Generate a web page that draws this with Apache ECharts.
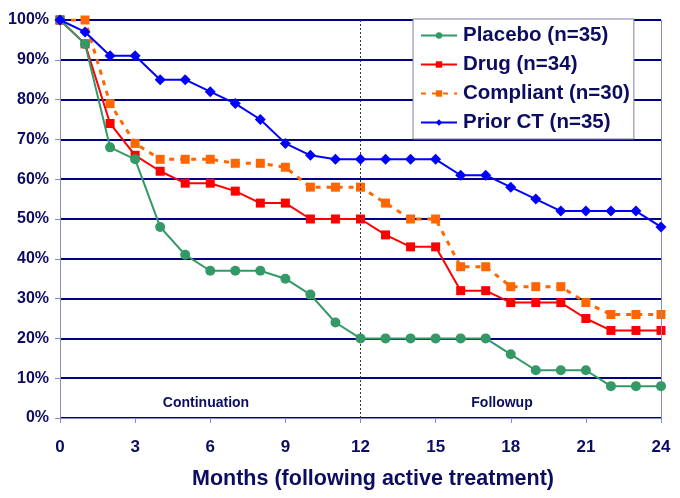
<!DOCTYPE html>
<html>
<head>
<meta charset="utf-8">
<script src="https://cdn.jsdelivr.net/npm/echarts@6/dist/echarts.min.js"></script>
<style>html,body{margin:0;padding:0;background:#fff}#c{width:680px;height:498px}</style>
</head>
<body>
<div id="c"></div>
<script>
var months = [0,1,2,3,4,5,6,7,8,9,10,11,12,13,14,15,16,17,18,19,20,21,22,23,24];
var placebo   = [100,94,68,65,48,41,37,37,37,35,31,24,20,20,20,20,20,20,16,12,12,12,8,8,8];
var drug      = [100,94,74,66,62,59,59,57,54,54,50,50,50,46,43,43,32,32,29,29,29,25,22,22,22];
var compliant = [100,100,79,69,65,65,65,64,64,63,58,58,58,54,50,50,38,38,33,33,33,29,26,26,26];
var priorCT   = [100,97,91,91,85,85,82,79,75,69,66,65,65,65,65,65,61,61,58,55,52,52,52,52,48];
var seriesNames = ['Placebo (n=35)','Drug (n=34)','Compliant (n=30)','Prior CT (n=35)'];
var phaseLabels = ['Continuation','Followup'];
var xTitle = 'Months (following active treatment)';

function pairs(v){ return months.map(function(m,i){ return [m, v[i]]; }); }
var navy = '#0c0c60';
var font = 'Liberation Sans, Arial, sans-serif';

var chart = echarts.init(document.getElementById('c'));
chart.setOption({
  animation: false,
  backgroundColor: '#fff',
  grid: {left: 60, right: 19, top: 20, bottom: 80},
  legend: {
    left: 413, top: 19, orient: 'vertical',
    backgroundColor: '#fff', borderColor: '#7f7fa8', borderWidth: 1, borderRadius: 0,
    padding: [6, 4, 6, 7], itemGap: 8, itemWidth: 36, itemHeight: 8,
    textStyle: {color: navy, fontSize: 20.5, fontWeight: 'bold', fontFamily: font, padding: [0, 0, 0, 1]},
    data: seriesNames
  },
  xAxis: {
    type: 'value', min: 0, max: 24, interval: 3,
    name: xTitle, nameLocation: 'middle', nameGap: 50,
    nameTextStyle: {color: navy, fontSize: 21.5, fontWeight: 'bold', fontFamily: font, padding: [0, 0, 0, 25]},
    axisLine: {show: true, lineStyle: {color: '#8c8cb8', width: 1}},
    axisTick: {show: true, length: 5, lineStyle: {color: '#8c8cb8'}},
    axisLabel: {color: navy, fontSize: 17, fontWeight: 'bold', fontFamily: font, margin: 21},
    splitLine: {show: false}
  },
  yAxis: {
    type: 'value', min: 0, max: 100, interval: 10,
    axisLine: {show: true, lineStyle: {color: '#8c8cb8', width: 1}},
    axisTick: {show: true, length: 5, lineStyle: {color: '#8c8cb8'}},
    axisLabel: {color: navy, fontSize: 16, fontWeight: 'bold', fontFamily: font, formatter: '{value}%', margin: 11},
    splitLine: {show: true, lineStyle: {color: '#000080', width: 2}}
  },
  series: [
    {
      name: seriesNames[0], type: 'line', data: pairs(placebo), z: 5,
      symbol: 'circle', symbolSize: 10,
      itemStyle: {color: '#339966'}, lineStyle: {color: '#339966', width: 2},
      markLine: {
        silent: true, symbol: 'none', label: {show: false},
        data: [
          {xAxis: 12, lineStyle: {color: '#333', width: 1, type: [2, 2]}},
          {xAxis: 24, lineStyle: {color: '#8c8cb8', width: 1, type: 'solid'}}
        ]
      },
      markPoint: {
        silent: true, symbol: 'rect', symbolSize: 0,
        label: {show: true, color: navy, fontSize: 14, fontWeight: 'bold', fontFamily: font, formatter: '{b}'},
        data: [
          {name: phaseLabels[0], coord: [5.83, 3.8]},
          {name: phaseLabels[1], coord: [17.65, 3.8]}
        ]
      }
    },
    {
      name: seriesNames[1], type: 'line', data: pairs(drug), z: 4,
      symbol: 'rect', symbolSize: 9,
      itemStyle: {color: '#ff0000'}, lineStyle: {color: '#ff0000', width: 2}
    },
    {
      name: seriesNames[2], type: 'line', data: pairs(compliant), z: 3,
      symbol: 'rect', symbolSize: 9,
      itemStyle: {color: '#ff6600'}, lineStyle: {color: '#ff6600', width: 3, type: [5, 6]}
    },
    {
      name: seriesNames[3], type: 'line', data: pairs(priorCT), z: 6,
      symbol: 'diamond', symbolSize: 11,
      itemStyle: {color: '#0000ff'}, lineStyle: {color: '#0000ff', width: 2}
    }
  ]
});
</script>
</body>
</html>
